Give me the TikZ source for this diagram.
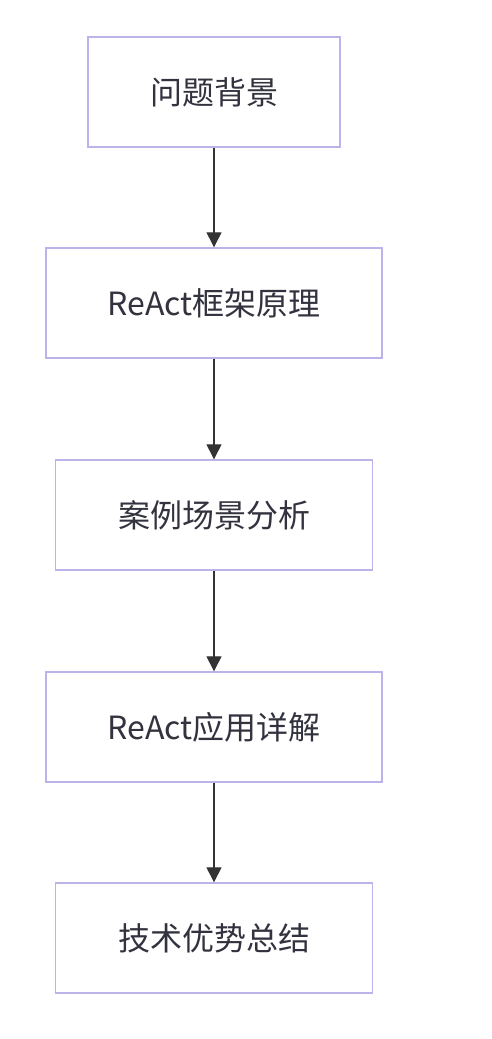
\documentclass[tikz,border=0pt]{standalone}
\usepackage{fontspec}
\setmainfont{Noto Sans CJK SC}
\usetikzlibrary{arrows.meta}
\definecolor{StepLine}{HTML}{BDB3EA}
\definecolor{StepText}{HTML}{333340}
\definecolor{FlowArrow}{HTML}{333333}

\tikzset{
  stepbox/.style={draw=StepLine,line width=1.4bp,fill=white,text=StepText,
    minimum height=110bp,inner sep=0pt,font=\fontsize{32bp}{36bp}\selectfont},
  flow/.style={draw=FlowArrow,line width=1.3bp,-{Triangle[length=15bp,width=15bp]}}
}

\begin{document}
\begin{tikzpicture}[x=1bp,y=-1bp]
  \useasboundingbox (0,0) rectangle (492,1039);
  \node[stepbox,minimum width=252bp] (bg) at (214,92) {问题背景};
  \node[stepbox,minimum width=336bp] (yl) at (214,303) {ReAct框架原理};
  \node[stepbox,minimum width=317bp] (al) at (214,515) {案例场景分析};
  \node[stepbox,minimum width=336bp] (yy) at (214,727) {ReAct应用详解};
  \node[stepbox,minimum width=317bp] (zj) at (214,938) {技术优势总结};
  \draw[flow] (bg) -- (yl);
  \draw[flow] (yl) -- (al);
  \draw[flow] (al) -- (yy);
  \draw[flow] (yy) -- (zj);
\end{tikzpicture}
\end{document}
